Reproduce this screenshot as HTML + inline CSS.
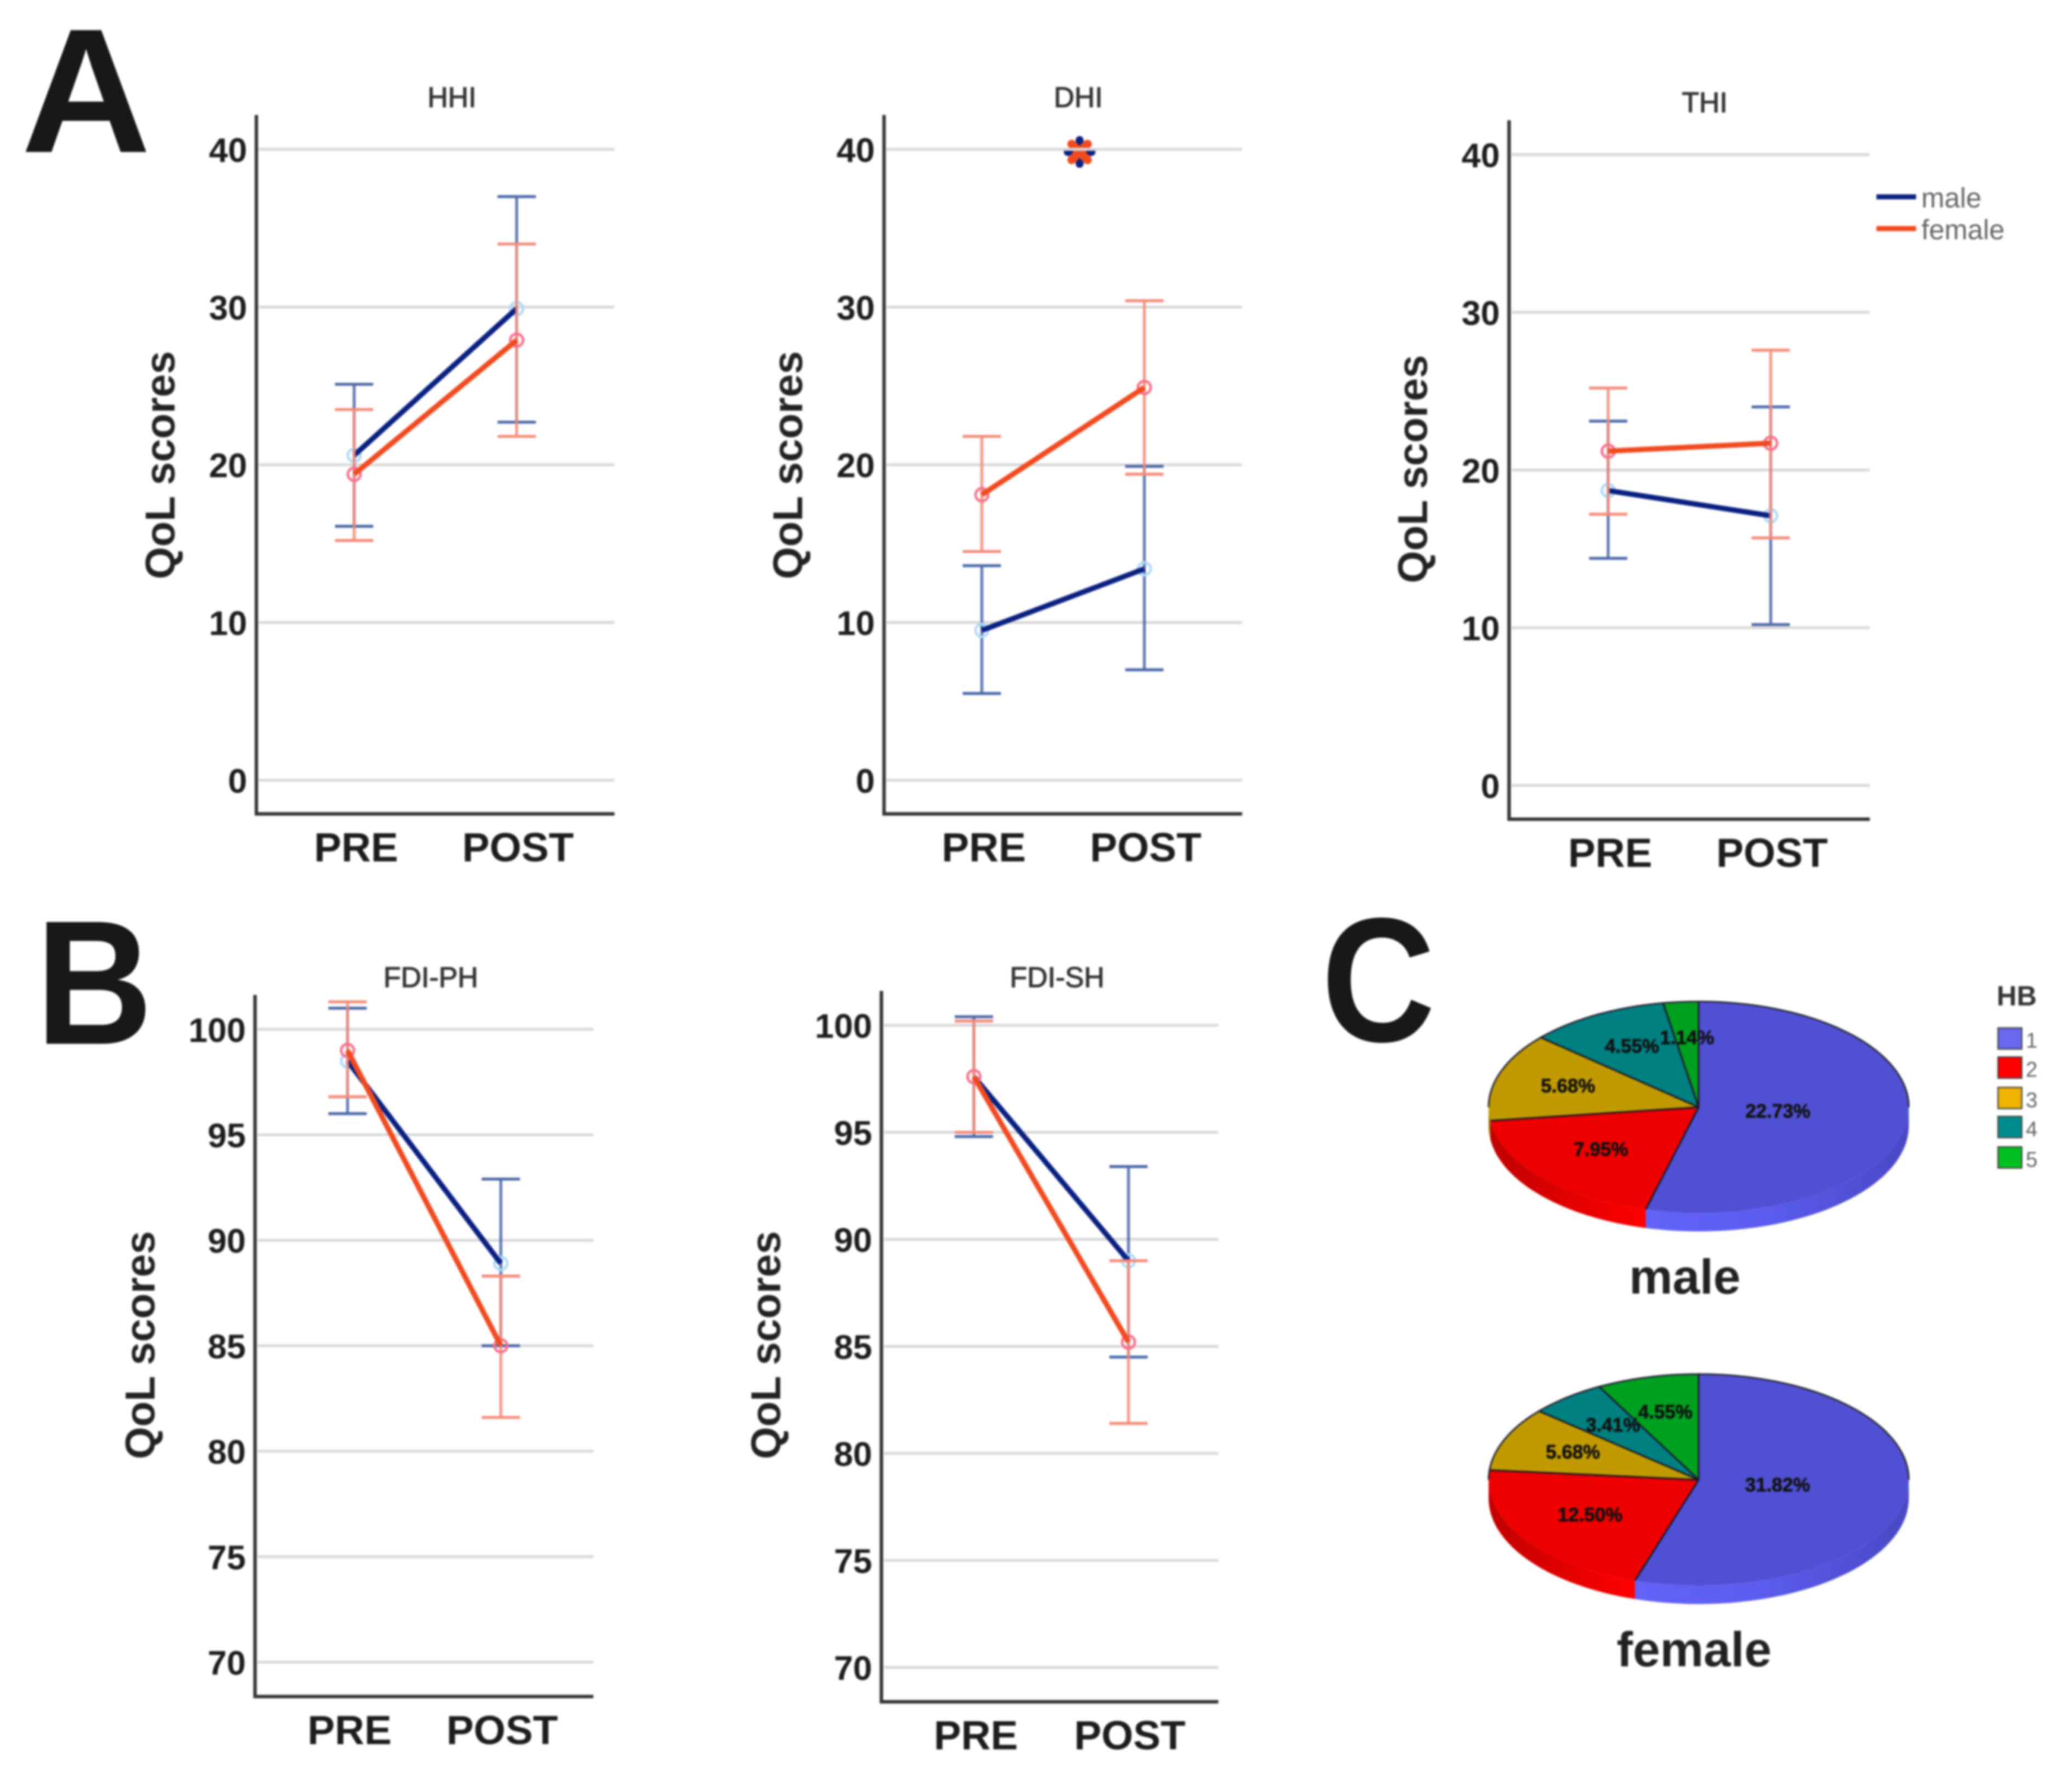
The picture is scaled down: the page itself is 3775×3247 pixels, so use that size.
<!DOCTYPE html>
<html>
<head>
<meta charset="utf-8">
<title>QoL scores by sex</title>
<style>
html,body{margin:0;padding:0;background:#fff;}
svg{display:block;filter:blur(1.8px);}
text{font-family:"Liberation Sans",sans-serif;}
</style>
</head>
<body>
<svg id="figure" xmlns="http://www.w3.org/2000/svg" width="3775" height="3247" viewBox="0 0 1568 1348.7">
  <defs>
    <linearGradient id="sideBlue" x1="0" x2="1" y1="0" y2="0"><stop offset="0" stop-color="#6262f8"/><stop offset="0.45" stop-color="#5c5cf0"/><stop offset="1" stop-color="#4848c4"/></linearGradient>
    <linearGradient id="sideRed" x1="0" x2="1" y1="0" y2="0"><stop offset="0" stop-color="#c00000"/><stop offset="0.7" stop-color="#ee0000"/><stop offset="1" stop-color="#ff0000"/></linearGradient>
  </defs>
  <rect x="0" y="0" width="1568" height="1349" fill="#fff"/>
  <text transform="translate(16,115) scale(1.015,1)" font-size="134" font-weight="bold" fill="#181818">A</text>
  <text transform="translate(27,790) scale(0.915,1)" font-size="134" font-weight="bold" fill="#181818">B</text>
  <text transform="translate(1000,788) scale(0.89,1)" font-size="134" font-weight="bold" fill="#181818">C</text>

  <g>
    <line x1="1420" y1="149" x2="1450" y2="149" stroke="#0a2080" stroke-width="3.8"/>
    <text x="1454" y="157" font-size="21" fill="#666">male</text>
    <line x1="1420" y1="173" x2="1450" y2="173" stroke="#f04a20" stroke-width="3.8"/>
    <text x="1454" y="181" font-size="21" fill="#666">female</text>
  </g>

  <g>
    <text x="1511" y="761" font-size="21" font-weight="bold" fill="#333">HB</text>
    <rect x="1512" y="778" width="18" height="16" fill="#6868f0" stroke="#444" stroke-width="1"/>
    <text x="1533" y="793" font-size="16" fill="#666">1</text>
    <rect x="1512" y="800" width="18" height="16" fill="#ff0000" stroke="#444" stroke-width="1"/>
    <text x="1533" y="815" font-size="16" fill="#666">2</text>
    <rect x="1512" y="823" width="18" height="16" fill="#f0b400" stroke="#444" stroke-width="1"/>
    <text x="1533" y="838" font-size="16" fill="#666">3</text>
    <rect x="1512" y="845" width="18" height="16" fill="#008c8c" stroke="#444" stroke-width="1"/>
    <text x="1533" y="860" font-size="16" fill="#666">4</text>
    <rect x="1512" y="868" width="18" height="16" fill="#00c020" stroke="#444" stroke-width="1"/>
    <text x="1533" y="883" font-size="16" fill="#666">5</text>
  </g>

  <text x="1275" y="979" font-size="37" font-weight="bold" text-anchor="middle" fill="#222">male</text>
  <text x="1282" y="1261" font-size="37" font-weight="bold" text-anchor="middle" fill="#222">female</text>

  <g stroke-linecap="round">
    <line x1="817" y1="106" x2="817" y2="124" stroke="#0a2080" stroke-width="6"/>
    <line x1="808" y1="115" x2="826" y2="115" stroke="#0a2080" stroke-width="6"/>
    <line x1="811" y1="109" x2="823" y2="121" stroke="#f04a20" stroke-width="6.5"/>
    <line x1="823" y1="109" x2="811" y2="121" stroke="#f04a20" stroke-width="6.5"/>
  </g>
</svg>
<script>
// ---- chart data ----
const timepoints = ['PRE', 'POST'];
const qolTicks = [0, 10, 20, 30, 40];
const fdiTicks = [70, 75, 80, 85, 90, 95, 100];

const hhiMale = [20.6, 29.9];
const hhiMaleLow = [16.1, 22.7];
const hhiMaleHigh = [25.1, 37.0];
const hhiFemale = [19.4, 27.9];
const hhiFemaleLow = [15.2, 21.8];
const hhiFemaleHigh = [23.5, 34.0];

const dhiMale = [9.5, 13.4];
const dhiMaleLow = [5.5, 7.0];
const dhiMaleHigh = [13.6, 19.9];
const dhiFemale = [18.1, 24.9];
const dhiFemaleLow = [14.5, 19.4];
const dhiFemaleHigh = [21.8, 30.4];

const thiMale = [18.7, 17.1];
const thiMaleLow = [14.4, 10.2];
const thiMaleHigh = [23.1, 24.0];
const thiFemale = [21.2, 21.7];
const thiFemaleLow = [17.2, 15.7];
const thiFemaleHigh = [25.2, 27.6];

const fdiPhMale = [98.5, 88.9];
const fdiPhMaleLow = [96.0, 85.0];
const fdiPhMaleHigh = [101.0, 92.9];
const fdiPhFemale = [99.0, 85.0];
const fdiPhFemaleLow = [96.8, 81.6];
const fdiPhFemaleHigh = [101.3, 88.3];

const fdiShMale = [97.6, 89.0];
const fdiShMaleLow = [94.8, 84.5];
const fdiShMaleHigh = [100.4, 93.4];
const fdiShFemale = [97.6, 85.2];
const fdiShFemaleLow = [95.0, 81.4];
const fdiShFemaleHigh = [100.2, 89.0];

const hbGrades = ['1', '2', '3', '4', '5'];
const pieMaleValues = [22.73, 7.95, 5.68, 4.55, 1.14];
const pieFemaleValues = [31.82, 12.50, 5.68, 3.41, 4.55];

// ---- layout ----
const NS = 'http://www.w3.org/2000/svg';
const root = document.getElementById('figure');
const MALE = { line: '#0a2080', err: '#4a68a8', ring: '#aedbf8' };
const FEMALE = { line: '#f04a20', err: '#f58a78', ring: '#f8708c' };

function make(parent, tag, attrs, content) {
  const node = document.createElementNS(NS, tag);
  for (const k in attrs) node.setAttribute(k, attrs[k]);
  if (content !== undefined) node.textContent = content;
  parent.appendChild(node);
  return node;
}

function drawSeries(g, panel, key, style, mean, low, high, xOf, yOf) {
  const capHalf = 14.5;
  mean.forEach(function (_, i) {
    const stem = make(g, 'line', { x1: xOf(i), x2: xOf(i), y1: yOf(low[i]), y2: yOf(high[i]), stroke: style.err, 'stroke-width': 2.2, 'stroke-opacity': 0.88 });
    
    
    const capLow = make(g, 'line', { x1: xOf(i) - capHalf, x2: xOf(i) + capHalf, y1: yOf(low[i]), y2: yOf(low[i]), stroke: style.err, 'stroke-width': 2.2 });
    
    
    const capHigh = make(g, 'line', { x1: xOf(i) - capHalf, x2: xOf(i) + capHalf, y1: yOf(high[i]), y2: yOf(high[i]), stroke: style.err, 'stroke-width': 2.2 });
    
    
  });
  mean.forEach(function (v, i) {
    const dot = make(g, 'circle', { cx: xOf(i), cy: yOf(v), r: 4.8, fill: 'none', stroke: style.ring, 'stroke-width': 2 });
    
    
  });
  const path = make(g, 'polyline', { points: mean.map(function (v, i) { return xOf(i) + ',' + yOf(v); }).join(' '), fill: 'none', stroke: style.line, 'stroke-width': 4 });
  
  
}

function linePanel(cfg) {
  const g = make(root, 'g', {});
  
  
  const yOf = function (v) { return cfg.yAtA + (v - cfg.valA) * (cfg.yAtB - cfg.yAtA) / (cfg.valB - cfg.valA); };
  const xOf = function (i) { return cfg.xPre + i * (cfg.xPost - cfg.xPre) / (timepoints.length - 1); };

  cfg.ticks.forEach(function (t) {
    const grid = make(g, 'line', { x1: cfg.axisX + 2, x2: cfg.right, y1: yOf(t), y2: yOf(t), stroke: '#d9d9d9', 'stroke-width': 2.2 });
    
    
    const label = make(g, 'text', { x: cfg.axisX - 7, y: yOf(t) + 9.5, 'font-size': 26, 'font-weight': 'bold', 'text-anchor': 'end', fill: '#1c1c1c' }, String(t));
    
    
  });

  const axes = make(g, 'polyline', { points: cfg.axisX + ',' + cfg.top + ' ' + cfg.axisX + ',' + cfg.bottom + ' ' + cfg.right + ',' + cfg.bottom, fill: 'none', stroke: '#333', 'stroke-width': 2.6 });
  
  

  timepoints.forEach(function (t, i) {
    const label = make(g, 'text', { x: xOf(i) + (i === 0 ? 1.5 : 1), y: cfg.bottom + 36, 'font-size': 31, 'font-weight': 'bold', 'text-anchor': 'middle', fill: '#1c1c1c' }, t);
    
    
  });

  const title = make(g, 'text', { x: cfg.titleX, y: cfg.titleY, 'font-size': 21.5, 'text-anchor': 'middle', fill: '#333', stroke: '#333', 'stroke-width': 0.5 }, cfg.title);
  
  

  const yTitle = make(g, 'text', { transform: 'translate(' + cfg.yTitleX + ',' + cfg.yTitleY + ') rotate(-90)', 'font-size': 31.5, 'font-weight': 'bold', 'text-anchor': 'middle', fill: '#222' }, 'QoL scores');
  
  

  drawSeries(g, cfg.name, 'male', MALE, cfg.male[0], cfg.male[1], cfg.male[2], xOf, yOf);
  drawSeries(g, cfg.name, 'female', FEMALE, cfg.female[0], cfg.female[1], cfg.female[2], xOf, yOf);
}

linePanel({ name: 'hhi', title: 'HHI', titleX: 342, titleY: 81, axisX: 194, right: 465, top: 87, bottom: 616, valA: 0, yAtA: 590.5, valB: 40, yAtB: 113, xPre: 268, xPost: 391, yTitleX: 132, yTitleY: 352, ticks: qolTicks,
  male: [hhiMale, hhiMaleLow, hhiMaleHigh], female: [hhiFemale, hhiFemaleLow, hhiFemaleHigh] });
linePanel({ name: 'dhi', title: 'DHI', titleX: 816, titleY: 81, axisX: 669, right: 940, top: 87, bottom: 616, valA: 0, yAtA: 590.5, valB: 40, yAtB: 113, xPre: 743, xPost: 866, yTitleX: 607, yTitleY: 352, ticks: qolTicks,
  male: [dhiMale, dhiMaleLow, dhiMaleHigh], female: [dhiFemale, dhiFemaleLow, dhiFemaleHigh] });
linePanel({ name: 'thi', title: 'THI', titleX: 1290, titleY: 85, axisX: 1142, right: 1415, top: 91, bottom: 620, valA: 0, yAtA: 594.5, valB: 40, yAtB: 117, xPre: 1217, xPost: 1340, yTitleX: 1080, yTitleY: 355, ticks: qolTicks,
  male: [thiMale, thiMaleLow, thiMaleHigh], female: [thiFemale, thiFemaleLow, thiFemaleHigh] });
linePanel({ name: 'fdi-ph', title: 'FDI-PH', titleX: 326, titleY: 747, axisX: 193, right: 449, top: 753, bottom: 1284, valA: 70, yAtA: 1258, valB: 100, yAtB: 779, xPre: 263, xPost: 379, yTitleX: 117, yTitleY: 1018, ticks: fdiTicks,
  male: [fdiPhMale, fdiPhMaleLow, fdiPhMaleHigh], female: [fdiPhFemale, fdiPhFemaleLow, fdiPhFemaleHigh] });
linePanel({ name: 'fdi-sh', title: 'FDI-SH', titleX: 800, titleY: 747, axisX: 667, right: 922, top: 750, bottom: 1288, valA: 70, yAtA: 1262, valB: 100, yAtB: 776, xPre: 737, xPost: 854, yTitleX: 590.5, yTitleY: 1018, ticks: fdiTicks,
  male: [fdiShMale, fdiShMaleLow, fdiShMaleHigh], female: [fdiShFemale, fdiShFemaleLow, fdiShFemaleHigh] });

const PIE_TOP = ['#5050d4', '#ee0000', '#c09a00', '#008080', '#00a020'];
const PIE_SIDE = ['url(#sideBlue)', 'url(#sideRed)', '#9a7c00', '#006666', '#008018'];

function piePanel(name, values, cx, cy) {
  const rx = 159, ry = 80, depth = 14;
  const g = make(root, 'g', {});
  
  
  const total = values.reduce(function (a, b) { return a + b; }, 0);
  const px = function (deg) { return cx + rx * Math.sin(deg * Math.PI / 180); };
  const py = function (deg) { return cy - ry * Math.cos(deg * Math.PI / 180); };
  let start = 0;
  const spans = values.map(function (v) {
    const sweep = v / total * 360;
    const span = [start, start + sweep];
    start += sweep;
    return span;
  });
  spans.forEach(function (s, i) {
    const a = Math.max(s[0], 90), b = Math.min(s[1], 270);
    if (b <= a) return;
    const large = b - a > 180 ? 1 : 0;
    const d = 'M' + px(a) + ' ' + py(a) + ' A' + rx + ' ' + ry + ' 0 ' + large + ' 1 ' + px(b) + ' ' + py(b) +
      ' L' + px(b) + ' ' + (py(b) + depth) + ' A' + rx + ' ' + ry + ' 0 ' + large + ' 0 ' + px(a) + ' ' + (py(a) + depth) + ' Z';
    const side = make(g, 'path', { d: d, fill: PIE_SIDE[i], stroke: 'none' });
    
    
  });
  spans.forEach(function (s, i) {
    const large = s[1] - s[0] > 180 ? 1 : 0;
    const d = 'M' + cx + ' ' + cy + ' L' + px(s[0]) + ' ' + py(s[0]) + ' A' + rx + ' ' + ry + ' 0 ' + large + ' 1 ' + px(s[1]) + ' ' + py(s[1]) + ' Z';
    const slice = make(g, 'path', { d: d, fill: PIE_TOP[i], stroke: 'none' });
    
    
  });
  const rim = make(g, 'path', { d: 'M' + px(270) + ' ' + py(270) + ' A' + rx + ' ' + ry + ' 0 0 1 ' + px(90) + ' ' + py(90), fill: 'none', stroke: '#2a2a3a', 'stroke-width': 1.3 });
  
  
  spans.forEach(function (s, i) {
    const edge = make(g, 'line', { x1: cx, y1: cy, x2: px(s[0]), y2: py(s[0]), stroke: '#1a1a2a', 'stroke-width': 1.3 });
    
    
  });
  spans.forEach(function (s, i) {
    const mid = (s[0] + s[1]) / 2;
    const k = mid < 180 ? 0.38 : (mid < 250 ? 0.62 : 0.65);
    const lx = cx + k * rx * Math.sin(mid * Math.PI / 180);
    const ly = cy - k * ry * Math.cos(mid * Math.PI / 180);
    const label = make(g, 'text', { x: lx, y: ly + 4, 'font-size': 14.5, 'font-weight': 'bold', 'text-anchor': 'middle', fill: '#111', stroke: '#111', 'stroke-width': 0.3 }, values[i].toFixed(2) + '%');
    
    
  });
}

piePanel('male', pieMaleValues, 1285.5, 838);
piePanel('female', pieFemaleValues, 1285.5, 1120);
</script>
</body>
</html>
